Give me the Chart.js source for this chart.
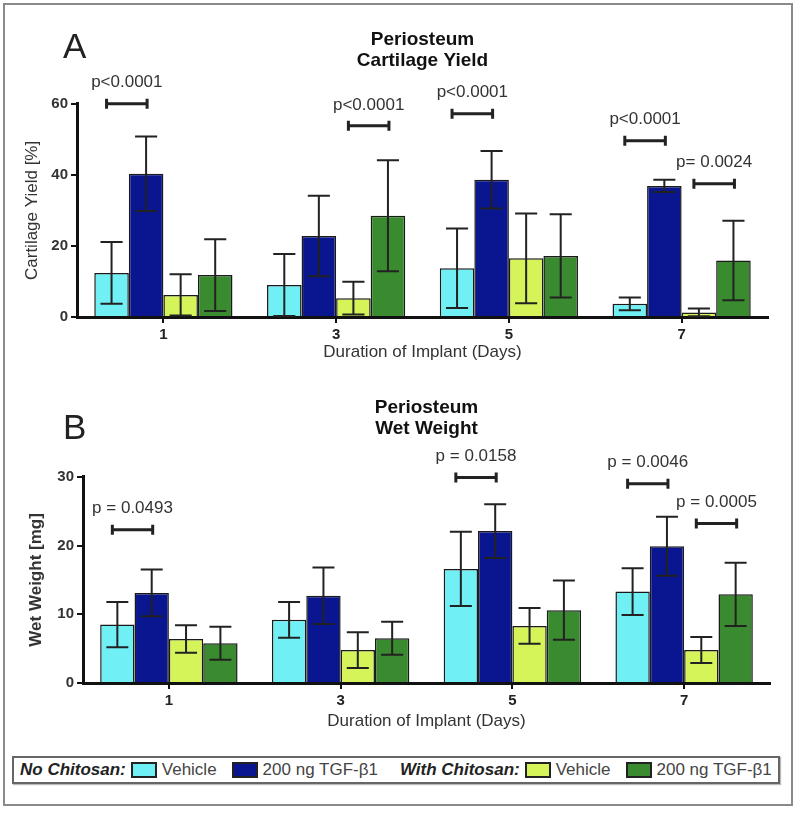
<!DOCTYPE html>
<html>
<head>
<meta charset="utf-8">
<title>Periosteum - Cartilage Yield and Wet Weight</title>
<script src="https://cdn.jsdelivr.net/npm/chart.js@4.4.1/dist/chart.umd.min.js"></script>
<style>
    body { margin: 0; background: #fff; font-family: "Liberation Sans", Arial, sans-serif; }
    #frame { position: absolute; left: 3px; top: 3px; width: 786px; height: 799px; border: 2px solid #8a8a8a; }
    .chart-box { position: absolute; left: 0; width: 800px; }
    #topBox { top: 0; height: 372px; }
    #bottomBox { top: 372px; height: 370px; }
    #legend {
        position: absolute; left: 12px; top: 756px; width: 758px; height: 24px;
        border: 2px solid #666; padding-left: 6px; white-space: nowrap;
        display: flex; align-items: center; font-size: 17px; color: #444;
        box-shadow: 1px 1px 1px #bbb;
    }
    #legend > span { flex-shrink: 0; }
    #legend .group { font-weight: bold; font-style: italic; color: #222; margin-right: 5px; }
    #legend .group.second { margin-left: 22px; }
    #legend .item { display: flex; align-items: center; }
    #legend .item + .item { margin-left: 15px; }
    #legend .swatch { width: 22px; height: 12px; border: 2px solid #222; margin-right: 5px; }
</style>
</head>
<body>
<div id="frame"></div>
<div class="chart-box" id="topBox"><canvas id="yieldChart"></canvas></div>
<div class="chart-box" id="bottomBox"><canvas id="weightChart"></canvas></div>
<div id="legend"></div>

<script>
// categories (days) and series
const days = ['1', '3', '5', '7'];
const seriesLabels = ['Vehicle', '200 ng TGF-β1', 'Vehicle', '200 ng TGF-β1'];
const seriesColors = ['#70f0f5', '#0a1690', '#d4f45a', '#3a8a30'];
const legendGroups = ['No Chitosan:', 'With Chitosan:'];

// panel A: cartilage yield [%]
const yieldVehicle = [12.4, 9.0, 13.7, 3.7];
const yieldTgf = [40.3, 22.8, 38.6, 36.9];
const yieldChitVehicle = [6.2, 5.3, 16.5, 1.3];
const yieldChitTgf = [11.8, 28.5, 17.2, 15.9];
const yieldVehicleErr = [8.7, 8.7, 11.2, 1.8];
const yieldTgfErr = [10.5, 11.3, 8.1, 1.7];
const yieldChitVehicleErr = [5.8, 4.6, 12.6, 1.1];
const yieldChitTgfErr = [10.1, 15.6, 11.7, 11.2];
const yieldTicks = [0, 20, 40, 60];

// panel B: wet weight [mg]
const weightVehicle = [8.5, 9.2, 16.6, 13.3];
const weightTgf = [13.1, 12.7, 22.1, 19.9];
const weightChitVehicle = [6.4, 4.8, 8.3, 4.8];
const weightChitTgf = [5.8, 6.5, 10.6, 12.9];
const weightVehicleErr = [3.3, 2.6, 5.4, 3.4];
const weightTgfErr = [3.4, 4.1, 3.9, 4.3];
const weightChitVehicleErr = [2.0, 2.6, 2.6, 1.9];
const weightChitTgfErr = [2.4, 2.4, 4.3, 4.6];
const weightTicks = [0, 10, 20, 30];

// significance brackets: day index, series a, series b, height (data units), label
const yieldBrackets = [
    { day: 0, a: 0, b: 1, at: 60, label: 'p<0.0001' },
    { day: 1, a: 2, b: 3, at: 53.8, label: 'p<0.0001' },
    { day: 2, a: 0, b: 1, at: 57.2, label: 'p<0.0001' },
    { day: 3, a: 0, b: 1, at: 49.6, label: 'p<0.0001' },
    { day: 3, a: 2, b: 3, at: 37.5, label: 'p= 0.0024' }
];
const weightBrackets = [
    { day: 0, a: 0, b: 1, at: 22.3, label: 'p = 0.0493' },
    { day: 2, a: 0, b: 1, at: 29.9, label: 'p = 0.0158' },
    { day: 3, a: 0, b: 1, at: 29.0, label: 'p = 0.0046' },
    { day: 3, a: 2, b: 3, at: 23.2, label: 'p = 0.0005' }
];

Chart.defaults.font.family = '"Liberation Sans", Arial, sans-serif';
Chart.defaults.color = '#333';

const errorBarPlugin = {
    id: 'errorBars',
    afterDatasetsDraw(chart, args, opts) {
        const ctx = chart.ctx;
        const yScale = chart.scales.y;
        ctx.save();
        ctx.strokeStyle = '#222';
        ctx.lineWidth = 2;
        chart.data.datasets.forEach((ds, i) => {
            chart.getDatasetMeta(i).data.forEach((bar, j) => {
                const v = ds.data[j];
                const e = opts.errors[i][j];
                const top = yScale.getPixelForValue(v + e);
                const bot = yScale.getPixelForValue(Math.max(v - e, 0));
                const cap = bar.width * 0.32;
                ctx.beginPath();
                ctx.moveTo(bar.x, top); ctx.lineTo(bar.x, bot);
                ctx.moveTo(bar.x - cap, top); ctx.lineTo(bar.x + cap, top);
                ctx.moveTo(bar.x - cap, bot); ctx.lineTo(bar.x + cap, bot);
                ctx.stroke();
            });
        });
        ctx.restore();
    }
};

const bracketPlugin = {
    id: 'brackets',
    afterDraw(chart, args, opts) {
        const ctx = chart.ctx;
        const yScale = chart.scales.y;
        ctx.save();
        opts.marks.forEach(m => {
            const a = chart.getDatasetMeta(m.a).data[m.day];
            const b = chart.getDatasetMeta(m.b).data[m.day];
            const y = yScale.getPixelForValue(m.at);
            const x1 = a.x - 5, x2 = b.x + 1;
            ctx.strokeStyle = '#222';
            ctx.lineWidth = 3;
            ctx.beginPath();
            ctx.moveTo(x1, y); ctx.lineTo(x2, y);
            ctx.moveTo(x1, y - 5); ctx.lineTo(x1, y + 5);
            ctx.moveTo(x2, y - 5); ctx.lineTo(x2, y + 5);
            ctx.stroke();
            ctx.fillStyle = '#333';
            ctx.font = '17px "Liberation Sans", Arial, sans-serif';
            ctx.textAlign = 'center';
            ctx.textBaseline = 'middle';
            ctx.fillText(m.label, (x1 + x2) / 2, y - 21);
        });
        ctx.restore();
    }
};

const panelLetterPlugin = {
    id: 'panelLetter',
    afterDraw(chart, args, opts) {
        const ctx = chart.ctx;
        ctx.save();
        ctx.fillStyle = '#222';
        ctx.font = '35px "Liberation Sans", Arial, sans-serif';
        ctx.textBaseline = 'alphabetic';
        ctx.fillText(opts.text, opts.x, opts.y);
        ctx.restore();
    }
};

function buildDatasets(values) {
    return values.map((data, i) => ({
        label: seriesLabels[i],
        data: data,
        backgroundColor: seriesColors[i],
        borderColor: '#1a1a1a',
        borderWidth: 1.5,
        categoryPercentage: 0.8,
        barPercentage: 1.0
    }));
}

function makeChart(canvasId, cfg) {
    const ctx = document.getElementById(canvasId).getContext('2d');
    return new Chart(ctx, {
        type: 'bar',
        data: { labels: days, datasets: buildDatasets(cfg.values) },
        plugins: [errorBarPlugin, bracketPlugin, panelLetterPlugin],
        options: {
            responsive: true,
            maintainAspectRatio: false,
            animation: false,
            layout: { padding: { left: 0, right: cfg.rightPad, top: 0, bottom: 0 } },
            scales: {
                x: {
                    grid: { offset: false, drawOnChartArea: false, tickLength: 6, lineWidth: 2, color: '#111' },
                    border: { display: true, width: 3, color: '#111' },
                    ticks: { font: { size: 15, weight: 'bold' }, color: '#222', padding: 3 },
                    title: {
                        display: true, text: 'Duration of Implant (Days)',
                        font: { size: 17 }, color: '#333', padding: { top: 0, bottom: cfg.xTitlePad }
                    },
                    afterFit: s => { s.height = cfg.xHeight; }
                },
                y: {
                    min: 0,
                    max: cfg.ticks[cfg.ticks.length - 1],
                    afterBuildTicks: s => { s.ticks = cfg.ticks.map(v => ({ value: v })); },
                    grid: { drawOnChartArea: false, tickLength: 6, lineWidth: 2, color: '#111' },
                    border: { display: true, width: 3, color: '#111' },
                    ticks: { font: { size: 15, weight: 'bold' }, color: '#333', padding: 3 },
                    title: {
                        display: true, text: cfg.yTitle,
                        font: { size: 17, weight: cfg.yTitleWeight }, color: '#333',
                        padding: { top: cfg.yTitlePad, bottom: 0 }
                    },
                    afterFit: s => { s.width = cfg.yWidth; }
                }
            },
            plugins: {
                legend: { display: false },
                tooltip: { enabled: false },
                title: {
                    display: true,
                    fullSize: false,
                    text: cfg.title,
                    font: { size: 19, weight: 'bold', lineHeight: 1.1 },
                    color: '#111',
                    padding: { top: cfg.titleTop, bottom: cfg.titleBottom }
                },
                errorBars: { errors: cfg.errors },
                brackets: { marks: cfg.brackets },
                panelLetter: cfg.letter
            }
        }
    });
}

function renderLegend() {
    const box = document.getElementById('legend');
    let html = '';
    legendGroups.forEach((g, gi) => {
        html += `<span class="group${gi ? ' second' : ''}">${g}</span>`;
        [0, 1].forEach(k => {
            const i = gi * 2 + k;
            html += `<span class="item"><span class="swatch" style="background:${seriesColors[i]}"></span>${seriesLabels[i]}</span>`;
        });
    });
    box.innerHTML = html;
}

document.addEventListener('DOMContentLoaded', function () {
    makeChart('yieldChart', {
        values: [yieldVehicle, yieldTgf, yieldChitVehicle, yieldChitTgf],
        errors: [yieldVehicleErr, yieldTgfErr, yieldChitVehicleErr, yieldChitTgfErr],
        ticks: yieldTicks,
        brackets: yieldBrackets,
        title: ['Periosteum', 'Cartilage Yield'],
        titleTop: 29, titleBottom: 33,
        yTitle: 'Cartilage Yield [%]', yTitleWeight: 'normal', yTitlePad: 22,
        yWidth: 77, rightPad: 32, xHeight: 55, xTitlePad: 9,
        letter: { text: 'A', x: 63, y: 58 }
    });
    makeChart('weightChart', {
        values: [weightVehicle, weightTgf, weightChitVehicle, weightChitTgf],
        errors: [weightVehicleErr, weightTgfErr, weightChitVehicleErr, weightChitTgfErr],
        ticks: weightTicks,
        brackets: weightBrackets,
        title: ['Periosteum', 'Wet Weight'],
        titleTop: 25, titleBottom: 38,
        yTitle: 'Wet Weight [mg]', yTitleWeight: 'bold', yTitlePad: 26,
        yWidth: 83, rightPad: 30, xHeight: 59, xTitlePad: 10,
        letter: { text: 'B', x: 63, y: 67 }
    });
    renderLegend();
});
</script>
</body>
</html>
